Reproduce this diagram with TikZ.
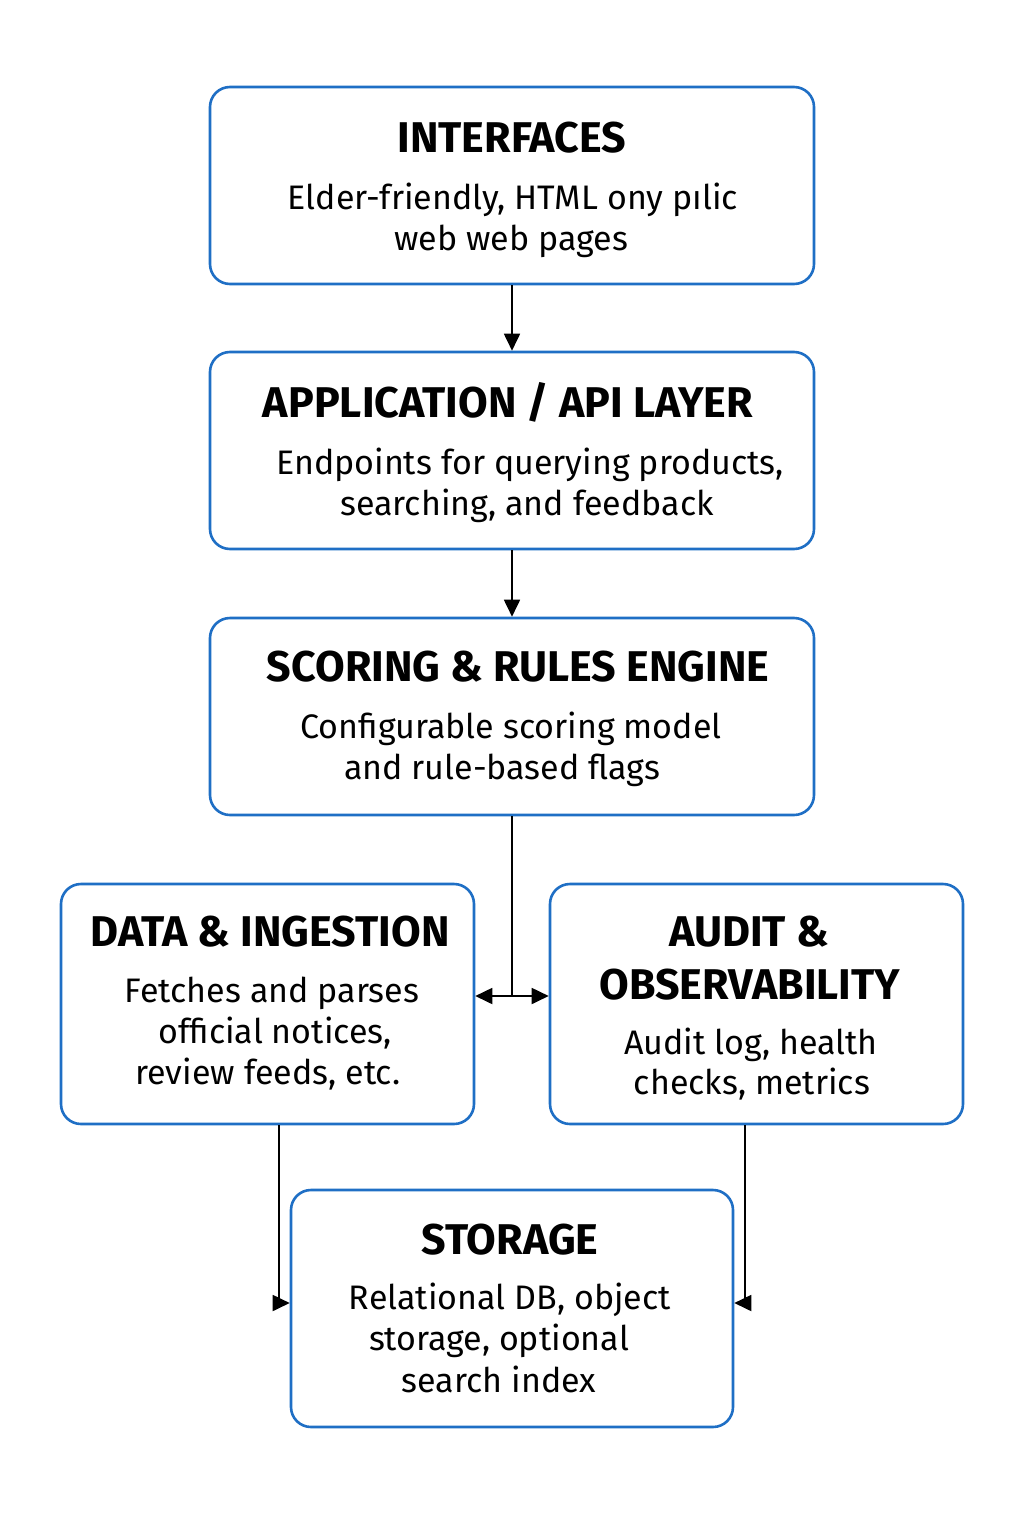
\documentclass[tikz,border=0pt]{standalone}
\usepackage{fontspec}
\setmainfont{Fira Sans}
\usetikzlibrary{arrows.meta}
\definecolor{boxblue}{HTML}{1F6FC5}
\tikzset{
  layerbox/.style={draw=boxblue, line width=2.6pt, rounded corners=20pt, fill=white, inner sep=0pt},
  ttl/.style={anchor=base, inner sep=0pt, font=\fontsize{43}{50}\selectfont\bfseries},
  body/.style={anchor=base, inner sep=0pt, font=\fontsize{34}{40}\selectfont},
  conn/.style={draw=black, line width=1.8pt, -{Triangle[length=17pt,width=16pt]}},
  dconn/.style={draw=black, line width=1.8pt, {Triangle[length=17pt,width=16pt]}-{Triangle[length=17pt,width=16pt]}}
}
\begin{document}
\begin{tikzpicture}[x=1pt,y=-1pt]
\useasboundingbox[fill=white] (0,0) rectangle (1024,1536);
% boxes
\node[layerbox, minimum width=604pt, minimum height=197pt] (ifc) at (512,185.5) {};
\node[layerbox, minimum width=604pt, minimum height=197pt] (api) at (512,450.5) {};
\node[layerbox, minimum width=604pt, minimum height=197pt] (sco) at (512,716.5) {};
\node[layerbox, minimum width=413pt, minimum height=240pt] (dat) at (267.5,1004) {};
\node[layerbox, minimum width=413pt, minimum height=240pt] (aud) at (756.5,1004) {};
\node[layerbox, minimum width=442pt, minimum height=237pt] (sto) at (512,1308.5) {};
% texts
\node[ttl] (ifct) at (512,152) {INTERFACES};
\node[body] (ifc1) at (513,209) {Elder-friendly, HTML ony pılic};
\node[body] (ifc2) at (511,250) {web web pages};
\node[ttl] (apit) at (508,417) {APPLICATION / API LAYER};
\node[body] (api1) at (530,474) {Endpoints for querying products,};
\node[body] (api2) at (527,515) {searching, and feedback};
\node[ttl] (scot) at (518,681) {SCORING \& RULES ENGINE};
\node[body] (sco1) at (511,738) {Configurable scoring model};
\node[body] (sco2) at (502,779) {and rule-based flags};
\node[ttl] (datt) at (270,946) {DATA \& INGESTION};
\node[body] (dat1) at (272,1002) {Fetches and parses};
\node[body] (dat2) at (275,1043) {official notices,};
\node[body] (dat3) at (268,1084) {review feeds, etc.};
\node[ttl] (audt1) at (749,946) {AUDIT \&};
\node[ttl] (audt2) at (750,999) {OBSERVABILITY};
\node[body] (aud1) at (751,1054) {Audit log, health};
\node[body] (aud2) at (752,1094) {checks, metrics};
\node[ttl] (stot) at (510,1254) {STORAGE};
\node[body] (sto1) at (510,1309) {Relational DB, object};
\node[body] (sto2) at (499,1350) {storage, optional};
\node[body] (sto3) at (499,1392) {search index};
% connectors
\draw[conn] (ifc.south) -- (api.north);
\draw[conn] (api.south) -- (sco.north);
\coordinate (mid) at (512,996);
\draw[line width=1.8pt] (sco.south) -- (mid);
\draw[dconn] (dat.east |- mid) -- (aud.west |- mid);
\coordinate (dturn) at (279,1303);
\coordinate (aturn) at (745,1303);
\draw[conn] (dat.south -| dturn) -- (dturn) -- (sto.west |- dturn);
\draw[conn] (aud.south -| aturn) -- (aturn) -- (sto.east |- aturn);
\end{tikzpicture}
\end{document}
